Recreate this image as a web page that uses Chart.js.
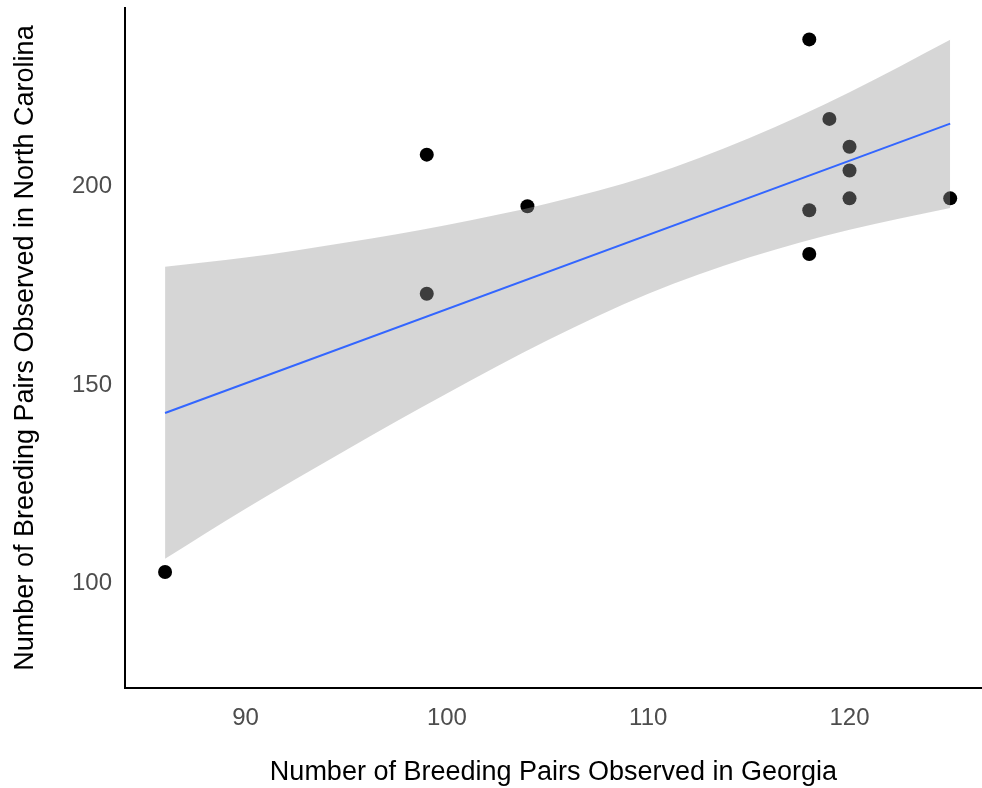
<!DOCTYPE html>
<html>
<head>
<meta charset="utf-8">
<script src="https://cdn.jsdelivr.net/npm/chart.js@4/dist/chart.umd.min.js"></script>
<style>
  html, body { margin: 0; padding: 0; background: #ffffff; }
  #wrap { width: 982px; height: 788px; position: relative; }
</style>
</head>
<body>
<div id="wrap"><canvas id="c" width="982" height="788"></canvas></div>
<script>
// Observed breeding pairs (Georgia vs North Carolina)
const georgia = [86, 99, 99, 104, 118, 118, 118, 119, 120, 120, 120, 125];
const northCarolina = [103, 208, 173, 195, 237, 194, 183, 217, 210, 204, 197, 197];

// Fitted line
const fitX = [86, 125];
const fitY = [143.0, 215.8];

// Confidence band
const bandX = [86, 90, 95, 100, 105, 110, 115, 120, 125];
const bandLower = [106.3, 118.9, 133.7, 147.9, 161.3, 173.0, 182.1, 189.1, 194.6];
const bandUpper = [179.8, 182.1, 185.9, 190.3, 195.7, 202.6, 212.1, 223.7, 236.9];

// Axis ticks
const xTicks = [90, 100, 110, 120];
const yTicks = [100, 150, 200];

const xTitle = 'Number of Breeding Pairs Observed in Georgia';
const yTitle = 'Number of Breeding Pairs Observed in North Carolina';

const pts = (xs, ys) => xs.map((x, i) => ({ x: x, y: ys[i] }));

const FONT = '"Liberation Sans", Arial, sans-serif';

function noPad(s) {
  s.paddingTop = 0; s.paddingBottom = 0; s.paddingLeft = 0; s.paddingRight = 0;
}

new Chart(document.getElementById('c'), {
  type: 'scatter',
  data: {
    datasets: [
      {
        label: 'observations',
        data: pts(georgia, northCarolina),
        backgroundColor: '#000000',
        borderColor: '#000000',
        borderWidth: 0,
        pointRadius: 7,
        pointHoverRadius: 7,
        order: 3
      },
      {
        label: 'lower',
        type: 'line',
        data: pts(bandX, bandLower),
        borderWidth: 0,
        borderColor: 'rgba(0,0,0,0)',
        pointRadius: 0,
        cubicInterpolationMode: 'monotone',
        fill: false,
        order: 2
      },
      {
        label: 'upper',
        type: 'line',
        data: pts(bandX, bandUpper),
        borderWidth: 0,
        borderColor: 'rgba(0,0,0,0)',
        backgroundColor: 'rgba(153,153,153,0.4)',
        pointRadius: 0,
        cubicInterpolationMode: 'monotone',
        fill: '-1',
        order: 2
      },
      {
        label: 'fit',
        type: 'line',
        data: pts(fitX, fitY),
        borderColor: '#3366FF',
        borderWidth: 2,
        pointRadius: 0,
        fill: false,
        order: 1
      }
    ]
  },
  options: {
    responsive: false,
    animation: false,
    events: [],
    layout: { autoPadding: false, padding: { top: 8, right: 0, bottom: 0, left: 0 } },
    plugins: {
      legend: { display: false },
      tooltip: { enabled: false }
    },
    scales: {
      x: {
        type: 'linear',
        min: 84.01,
        max: 126.58,
        grid: { display: false, drawTicks: false },
        border: { display: true, color: '#000000', width: 2 },
        afterBuildTicks: (s) => { s.ticks = xTicks.map(v => ({ value: v })); },
        afterFit: (s) => { s.height = 100; noPad(s); },
        ticks: {
          color: '#4d4d4d',
          font: { family: FONT, size: 24 },
          padding: 16,
          maxRotation: 0
        },
        title: {
          display: true,
          text: xTitle,
          color: '#000000',
          font: { family: FONT, size: 27, lineHeight: 1.15 },
          padding: { top: 0, bottom: 0 }
        }
      },
      y: {
        type: 'linear',
        min: 73.8,
        max: 244.9,
        grid: { display: false, drawTicks: false },
        border: { display: true, color: '#000000', width: 2 },
        afterBuildTicks: (s) => { s.ticks = yTicks.map(v => ({ value: v })); },
        afterFit: (s) => { s.width = 125; noPad(s); },
        ticks: {
          color: '#4d4d4d',
          font: { family: FONT, size: 24 },
          padding: 13
        },
        title: {
          display: true,
          text: yTitle,
          color: '#000000',
          font: { family: FONT, size: 27 },
          padding: { top: 9, bottom: 0 }
        }
      }
    }
  }
});
</script>
</body>
</html>
